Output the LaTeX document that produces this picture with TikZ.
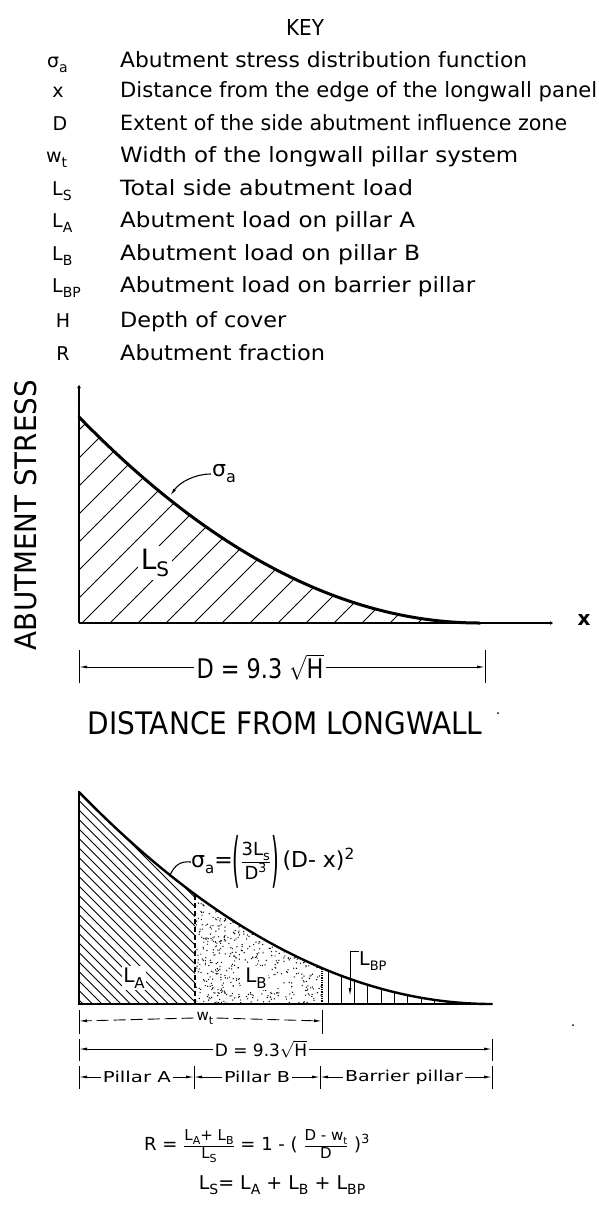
\documentclass[tikz,border=0pt]{standalone}
\usepackage{fontspec}
\setmainfont{DejaVu Sans}
\usepackage{graphicx}
\usetikzlibrary{arrows.meta}
\newcommand\fsz[1]{\fontsize{#1}{#1}\selectfont}
\newcommand\lsubs[2]{\raisebox{-0.28em}{\fsz{#1}#2}}
\begin{document}
\begin{tikzpicture}[x=1pt,y=-1pt,
  keytext/.style={font=\fsz{21}, anchor=base west, inner sep=0pt},
  keysym/.style={font=\fsz{19}, inner sep=0pt},
  axisline/.style={line width=2pt},
  curveline/.style={line width=3pt, line cap=round},
  outline/.style={line width=2.4pt},
  hatchline/.style={line width=0.9pt},
  dimline/.style={line width=0.9pt},
  tipped/.style={-{Latex[length=8pt,width=3pt]}},
  pillarlbl/.style={font=\fsz{15}, inner sep=2pt},
]
\useasboundingbox (0,0) rectangle (598,1216);
\fill[white] (0,0) rectangle (598,1216);

% ---------------- KEY ----------------
\node[inner sep=0pt] (key) at (305,27) {\resizebox{38pt}{16pt}{KEY}};

\node[keysym, anchor=base west] (s1) at (47,67) {σ\lsubs{14}{a}};
\node[keysym, anchor=base] (s2) at (58,97) {x};
\node[keysym, anchor=base] (s3) at (60,130) {D};
\node[keysym, anchor=base west] (s4) at (46,162) {w\lsubs{14}{t}};
\node[keysym, anchor=base west] (s5) at (52,195) {L\lsubs{14}{S}};
\node[keysym, anchor=base west] (s6) at (52,227) {L\lsubs{14}{A}};
\node[keysym, anchor=base west] (s7) at (52,260) {L\lsubs{14}{B}};
\node[keysym, anchor=base west] (s8) at (52,292) {L\lsubs{14}{BP}};
\node[keysym, anchor=base] (s9) at (63,327) {H};
\node[keysym, anchor=base] (s10) at (63,360) {R};

\node[keytext] (d1) at (120,67) {\resizebox{407pt}{\height}{Abutment stress distribution function}};
\node[keytext] (d2) at (120,97) {\resizebox{477pt}{\height}{Distance from the edge of the longwall panel}};
\node[keytext] (d3) at (120,130) {\resizebox{447pt}{\height}{Extent of the side abutment influence zone}};
\node[keytext] (d4) at (120,162) {\resizebox{398pt}{\height}{Width of the longwall pillar system}};
\node[keytext] (d5) at (120,195) {\resizebox{293pt}{\height}{Total side abutment load}};
\node[keytext] (d6) at (120,227) {\resizebox{295pt}{\height}{Abutment load on pillar A}};
\node[keytext] (d7) at (120,260) {\resizebox{300pt}{\height}{Abutment load on pillar B}};
\node[keytext] (d8) at (120,292) {\resizebox{355pt}{\height}{Abutment load on barrier pillar}};
\node[keytext] (d9) at (120,327) {\resizebox{166pt}{\height}{Depth of cover}};
\node[keytext] (d10) at (120,360) {\resizebox{205pt}{\height}{Abutment fraction}};

% ---------------- TOP GRAPH ----------------
\node[inner sep=0pt] (ylab) at (26,515) {\rotatebox{90}{\resizebox{270pt}{22pt}{ABUTMENT STRESS}}};

\begin{scope}
  \clip (79,623) -- (79,417) .. controls (212.7,554.3) and (346.3,623) .. (480,623) -- cycle;
  \foreach \c in {509,537,...,1110} {
    \draw[hatchline] (\c-623,623) -- (\c-380,380);
  }
\end{scope}
\node[font=\fsz{28}, fill=white, inner sep=3pt] (ls) at (155,563) {L\lsubs{20}{S}};

\coordinate (o1) at (79,623);
\coordinate (ytop) at (79,380);
\coordinate (xend) at (558,623);
\draw[axisline, tipped] (o1) -- (ytop);
\draw[axisline, tipped] (o1) -- (xend);
\node[font=\bfseries\fsz{20}] (xl) at (584,620) {x};
\draw[curveline] (79,417) .. controls (212.7,554.3) and (346.3,623) .. (480,623);

\node[font=\fsz{22}, inner sep=1pt] (sig1) at (224,474) {σ\lsubs{16}{a}};
\coordinate (sig1tip) at (170,496);
\draw[line width=1.1pt, tipped] (sig1.west) .. controls (195,474) and (180,482) .. (sig1tip);

% dimension D (top)
\coordinate (tl) at (79,667);
\coordinate (tr) at (485,667);
\draw[dimline] (79,650) -- (79,683);
\draw[dimline] (485,650) -- (485,683);
\node[font=\fsz{27}, inner sep=2pt] (dtop) at (260,667) {\resizebox{127pt}{\height}{D = 9.3 $\sqrt{\hbox{H}}$}};
\draw[dimline, tipped] (dtop.west) -- (tl);
\draw[dimline, tipped] (dtop.east) -- (tr);

\node[inner sep=0pt] (xlab) at (285,723) {\resizebox{395pt}{23pt}{DISTANCE FROM LONGWALL}};
\fill (498,713) circle (1);

% ---------------- BOTTOM GRAPH ----------------
\begin{scope}
  \clip (79,1004) -- (79,792) .. controls (216.7,933.3) and (354.3,1004) .. (492,1004) -- cycle;
  \begin{scope}
    \clip (79,770) rectangle (195,1004);
    \foreach \c in {-940,-930.5,...,-680} {
      \draw[hatchline] (\c+770,770) -- (\c+1004,1004);
    }
  \end{scope}
  \begin{scope}
    \clip (195,770) rectangle (322,1004);
    \pgfmathsetseed{4242}
    \foreach \i in {1,...,750} {
      \pgfmathsetmacro\xx{195+127*rnd}
      \pgfmathsetmacro\yy{888+116*rnd}
      \fill (\xx,\yy) circle (0.7);
    }
  \end{scope}
  \begin{scope}
    \clip (322,900) rectangle (492,1004);
    \foreach \xv in {328,341.3,...,490} {
      \draw[hatchline] (\xv,1004) -- (\xv,940);
    }
  \end{scope}
\end{scope}
\draw[line width=1.3pt, densely dotted] (322,1004) -- (322,968);
\draw[line width=2pt, dash pattern=on 5pt off 3pt] (195,1004) -- (195,894.4);

\draw[outline] (79,792) -- (79,1004) -- (492,1004);
\draw[outline, line cap=round] (79,792) .. controls (216.7,933.3) and (354.3,1004) .. (492,1004);

\node[font=\fsz{20}, fill=white, inner sep=1.5pt] (la) at (134,978) {L\lsubs{15}{A}};
\node[font=\fsz{20}, fill=white, inner sep=1.5pt] (lb) at (256,978) {L\lsubs{15}{B}};

% L_BP label with leader
\node[font=\fsz{19}, anchor=north west, inner sep=0pt] (lbp) at (359,951) {L\lsubs{13}{BP}};
\coordinate (bptip) at (350,996);
\draw[line width=1pt, tipped] (lbp.north west) -| (bptip);

% sigma formula with leader
\node[font=\fsz{22}, anchor=west, inner sep=0pt] (fsig) at (191,862)
  {σ\lsubs{15}{a}=$\vcenter{\hbox{\scalebox{0.9}[2.7]{(}}}{\hbox{\fsz{18}3L\lsubs{13}{s}}\above 1pt\hbox{\fsz{18}D\textsuperscript{3}}}\vcenter{\hbox{\scalebox{0.9}[2.7]{)}}}$\,(D- x)\textsuperscript{2}};
\coordinate (sig2pt) at (170,875);
\draw[line width=1.1pt] (sig2pt) .. controls (175,865) and (180,861) .. (fsig.west);

% w_t dimension
\coordinate (w0) at (79,1021);
\coordinate (w1) at (322,1021);
\draw[dimline] (79,1010) -- (79,1034);
\draw[dimline] (322,1010) -- (322,1034);
\node[font=\fsz{15}, inner sep=3pt] (wt) at (205,1018) {w\lsubs{11}{t}};
\draw[dimline, dash pattern=on 12pt off 5pt, tipped] (wt.west) -- (w0);
\draw[dimline, dash pattern=on 12pt off 5pt, tipped] (wt.east) -- (w1);

% D dimension (bottom)
\coordinate (e0) at (79,1049);
\coordinate (e1) at (492,1049);
\draw[dimline] (79,1039) -- (79,1061);
\draw[dimline] (492,1039) -- (492,1061);
\node[font=\fsz{17}, inner sep=2pt] (dbot) at (261,1049) {D = 9.3$\sqrt{\hbox{H}}$};
\draw[dimline, tipped] (dbot.west) -- (e0);
\draw[dimline, tipped] (dbot.east) -- (e1);

% pillar widths
\coordinate (p0) at (79,1077);
\coordinate (p1) at (194,1077);
\coordinate (p2) at (320,1077);
\coordinate (p3) at (492,1077);
\foreach \tx in {79,194,320,492} { \draw[dimline] (\tx,1066) -- (\tx,1089); }
\node[pillarlbl] (pa) at (137,1077) {\resizebox{68pt}{\height}{Pillar A}};
\node[pillarlbl] (pb) at (257,1077) {\resizebox{66pt}{\height}{Pillar B}};
\node[pillarlbl] (pc) at (404,1077) {\resizebox{118pt}{\height}{Barrier pillar}};
\draw[dimline, tipped] (pa.west) -- (p0);
\draw[dimline, tipped] (pa.east) -- (p1);
\draw[dimline, tipped] (pb.west) -- (p1);
\draw[dimline, tipped] (pb.east) -- (p2);
\draw[dimline, tipped] (pc.west) -- (p2);
\draw[dimline, tipped] (pc.east) -- (p3);
\fill (573,1025) circle (1);

% formulas
\node[font=\fsz{18}, inner sep=0pt] (rform) at (257,1146)
  {R = ${\hbox{\fsz{15}L\lsubs{11}{A}+ L\lsubs{11}{B}}\above 0.8pt\hbox{\fsz{15}L\lsubs{11}{S}}}$ = 1 - ( ${\hbox{\fsz{15}D - w\lsubs{10}{t}}\above 0.8pt\hbox{\fsz{15}D}}$ )\textsuperscript{3}};
\node[font=\fsz{19}, inner sep=0pt] (lsform) at (282,1185)
  {L\lsubs{14}{S}= L\lsubs{14}{A} + L\lsubs{14}{B} + L\lsubs{14}{BP}};
\end{tikzpicture}
\end{document}
